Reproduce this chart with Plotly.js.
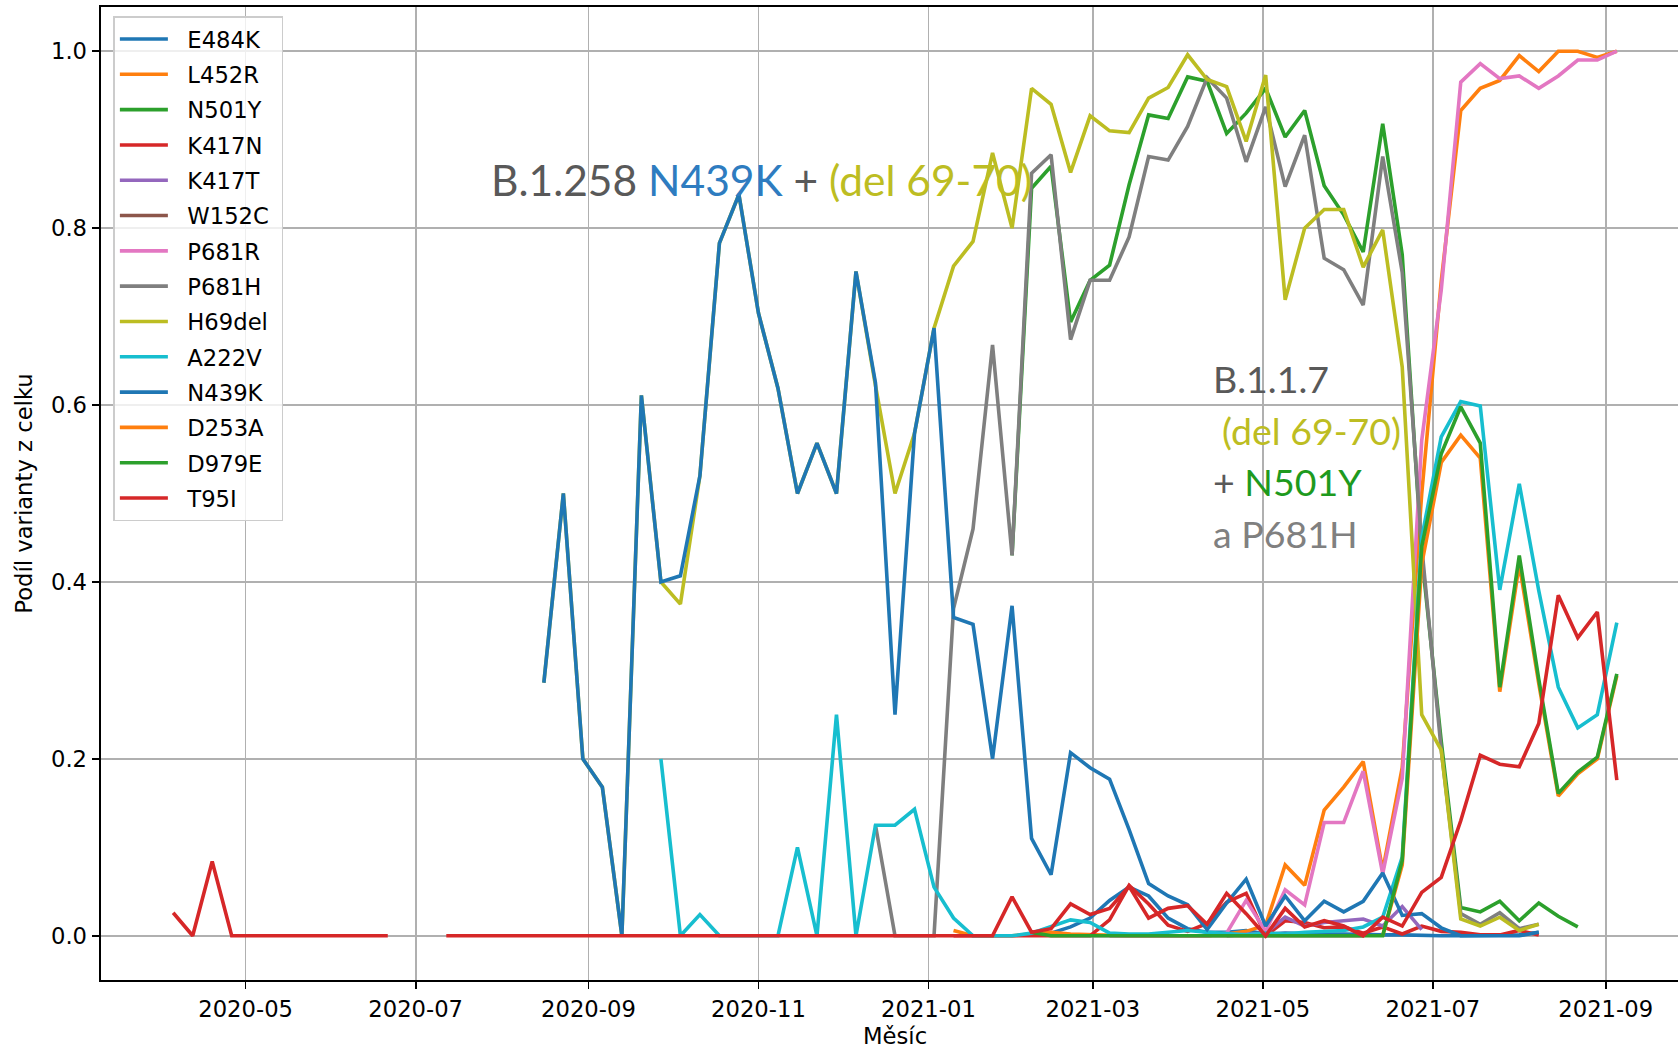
<!DOCTYPE html>
<html>
<head>
<meta charset="utf-8">
<script src="https://cdn.plot.ly/plotly-3.0.1.min.js"></script>
<style>
html,body{margin:0;padding:0;overflow:hidden;background:#fff;width:1678px;height:1050px}
#chart{width:1700px;height:1050px}
</style>
</head>
<body>
<div id="chart"></div>
<script>
// weekly dates (Sundays)
const weeks = [
 '2020-04-05','2020-04-12','2020-04-19','2020-04-26','2020-05-03','2020-05-10','2020-05-17','2020-05-24','2020-05-31','2020-06-07',
 '2020-06-14','2020-06-21','2020-06-28','2020-07-05','2020-07-12','2020-07-19','2020-07-26','2020-08-02','2020-08-09','2020-08-16',
 '2020-08-23','2020-08-30','2020-09-06','2020-09-13','2020-09-20','2020-09-27','2020-10-04','2020-10-11','2020-10-18','2020-10-25',
 '2020-11-01','2020-11-08','2020-11-15','2020-11-22','2020-11-29','2020-12-06','2020-12-13','2020-12-20','2020-12-27','2021-01-03',
 '2021-01-10','2021-01-17','2021-01-24','2021-01-31','2021-02-07','2021-02-14','2021-02-21','2021-02-28','2021-03-07','2021-03-14',
 '2021-03-21','2021-03-28','2021-04-04','2021-04-11','2021-04-18','2021-04-25','2021-05-02','2021-05-09','2021-05-16','2021-05-23',
 '2021-05-30','2021-06-06','2021-06-13','2021-06-20','2021-06-27','2021-07-04','2021-07-11','2021-07-18','2021-07-25','2021-08-01',
 '2021-08-08','2021-08-15','2021-08-22','2021-08-29','2021-09-05'
];
const _ = null;

const E484K = [
 _,_,_,_,_,_,_,_,_,_,  _,_,_,_,_,_,_,_,_,_,  _,_,_,_,_,_,_,_,_,_,  _,_,_,_,_,_,_,_,_,_,
 _,_,_,_,_,0.003,0.01,0.02,0.04,0.055,  0.045,0.02,0.008,0.004,0.004,0.006,0.002,0.003,0.002,0.002,
 0.002,0.001,0.001,0.001,0,0,0,0,0,0.001,  0.004,_,_,_,_
];
const L452R = [
 _,_,_,_,_,_,_,_,_,_,  _,_,_,_,_,_,_,_,_,_,  _,_,_,_,_,_,_,_,_,_,  _,_,_,_,_,_,_,_,_,_,
 0.006,0,0,0,0.002,0.004,0.002,0.001,0,0,  0,0,0,0,0.002,0.005,0.012,0.08,0.057,0.142,
 0.168,0.197,0.074,0.19,0.5,0.74,0.933,0.958,0.967,0.995,  0.977,1.0,1.0,0.993,1.0
];
const N501Y = [
 _,_,_,_,_,_,_,_,_,_,  _,_,_,_,_,_,_,_,_,_,  _,_,_,_,_,_,_,_,_,_,  _,_,_,_,_,_,_,_,_,_,
 _,_,_,0.43,0.845,0.87,0.694,0.741,0.758,0.849,  0.928,0.924,0.971,0.966,0.907,0.93,0.958,0.903,0.933,0.848,
 0.815,0.773,0.918,0.77,0.43,0.22,0.032,0.027,0.039,0.017,  0.037,0.022,0.01,_,_
];
const K417N = [
 _,_,_,_,_,_,_,_,_,_,  _,_,_,_,_,_,_,_,_,_,  _,_,_,_,_,_,_,_,_,_,  _,_,_,_,_,_,_,_,_,_,
 0,0,0,0,0,0,0,0,0.018,0.057,  0.036,0.012,0.005,0.014,0.038,0.048,0,0.017,0.015,0.009,
 0.01,0.003,0.01,0.002,0.011,0.005,0.004,0.001,0.001,0.006,  0.001,_,_,_,_
];
const K417T = [
 _,_,_,_,_,_,_,_,_,_,  _,_,_,_,_,_,_,_,_,_,  _,_,_,_,_,_,_,_,_,_,  _,_,_,_,_,_,_,_,_,_,
 _,_,_,_,_,_,_,_,_,_,  _,_,_,_,0,0.002,0.003,0.021,0.011,0.015,
 0.017,0.019,0.011,0.033,0.007,_,_,_,_,_,  _,_,_,_,_
];
const W152C = [
 _,_,_,_,_,_,_,_,_,_,  _,_,_,_,_,_,_,_,_,_,  _,_,_,_,_,_,_,_,_,_,  _,_,_,_,_,_,_,_,_,_,
 _,_,_,_,_,_,_,_,0,0,  0,0,0,0,0,0,0,0,0,0,
 0,0,_,_,_,_,_,_,_,_,  _,_,_,_,_
];
const P681R = [
 _,_,_,_,_,_,_,_,_,_,  _,_,_,_,_,_,_,_,_,_,  _,_,_,_,_,_,_,_,_,_,  _,_,_,_,_,_,_,_,_,_,
 _,_,_,_,_,_,0,0,0,0,  0,0,0,0,0.003,0.04,0.005,0.052,0.035,0.128,
 0.128,0.186,0.07,0.178,0.56,0.73,0.965,0.986,0.969,0.972,  0.958,0.972,0.99,0.99,1.0
];
const P681H = [
 _,_,_,_,_,_,_,_,_,_,  _,_,_,_,_,_,_,_,_,_,  _,_,_,_,_,_,_,_,_,_,  _,_,_,_,_,_,0.125,0,0,0,
 0.37,0.46,0.668,0.43,0.862,0.883,0.674,0.741,0.741,0.79,  0.881,0.877,0.915,0.97,0.947,0.875,0.937,0.847,0.905,0.766,
 0.753,0.713,0.881,0.75,0.44,0.21,0.025,0.013,0.026,0.008,  0.013,_,_,_,_
];
const H69del = [
 _,_,_,_,_,_,_,_,_,_,  _,_,_,_,_,_,_,_,_,0.286,  0.5,0.2,0.168,0,0.611,0.40,0.375,0.52,0.783,0.838,
 0.704,0.619,0.50,0.557,0.50,0.751,0.622,0.50,0.568,0.687,
 0.757,0.785,0.885,0.80,0.958,0.94,0.863,0.927,0.910,0.908,  0.947,0.959,0.996,0.968,0.960,0.898,0.973,0.719,0.800,0.821,
 0.821,0.756,0.798,0.643,0.25,0.21,0.019,0.011,0.021,0.006,  0.013,_,_,_,_
];
const A222V = [
 _,_,_,_,_,_,_,_,_,_,  _,_,_,_,_,_,_,_,_,_,  _,_,_,_,_,0.2,0,0.024,0,0,
 0,0,0.1,0,0.25,0,0.125,0.125,0.143,0.055,
 0.02,0,0,0,0.003,0.01,0.018,0.015,0.003,0.002,  0.002,0.004,0.006,0.004,0.002,0.001,0.003,0.002,0.004,0.005,
 0.006,0.01,0.021,0.089,0.45,0.564,0.604,0.599,0.391,0.511,  0.39,0.281,0.235,0.25,0.354
];
const N439K = [
 _,_,_,_,_,_,_,_,_,_,  _,_,_,_,_,_,_,_,_,0.286,  0.5,0.2,0.168,0,0.611,0.40,0.407,0.52,0.783,0.838,
 0.704,0.619,0.50,0.557,0.50,0.751,0.625,0.25,0.568,0.687,
 0.36,0.352,0.2,0.373,0.11,0.069,0.207,0.19,0.177,0.12,  0.059,0.045,0.035,0.007,0.037,0.064,0.011,0.045,0.017,0.039,
 0.027,0.039,0.071,0.023,0.025,0.009,0,0,0,0,  0.004,_,_,_,_
];
const D253A = [
 _,_,_,_,_,_,_,_,_,_,  _,_,_,_,_,_,_,_,_,_,  _,_,_,_,_,_,_,_,_,_,  _,_,_,_,_,_,_,_,_,_,
 _,_,_,_,_,_,_,_,_,_,  _,_,_,_,_,_,_,_,_,_,
 _,_,0,0.08,0.42,0.535,0.566,0.54,0.276,0.42,  0.285,0.158,0.183,0.2,0.294
];
const D979E = [
 _,_,_,_,_,_,_,_,_,_,  _,_,_,_,_,_,_,_,_,_,  _,_,_,_,_,_,_,_,_,_,  _,_,_,_,_,_,_,_,_,_,
 _,_,_,_,0.004,0,0,0,0,0,  0,0,0,0,0,0,0,0,0,0,
 0,0,0,0.085,0.44,0.545,0.598,0.557,0.281,0.43,  0.29,0.161,0.185,0.202,0.296
];
const T95I = [
 0.026,0,0.084,0,0,0,0,0,0,0,  0,0,_,_,0,0,0,0,0,0,  0,0,0,0,0,0,0,0,0,0,  0,0,0,0,0,0,0,0,0,0,
 0,0,0,0.044,0.004,0.008,0.036,0.024,0.031,0.056,  0.02,0.031,0.034,0.013,0.048,0.025,0,0.031,0.01,0.017,
 0.011,0,0.021,0.011,0.049,0.066,0.13,0.204,0.194,0.191,  0.24,0.385,0.337,0.366,0.176
];

const seriesNames = ['E484K','L452R','N501Y','K417N','K417T','W152C','P681R','P681H','H69del','A222V','N439K','D253A','D979E','T95I'];
const seriesValues = [E484K,L452R,N501Y,K417N,K417T,W152C,P681R,P681H,H69del,A222V,N439K,D253A,D979E,T95I];
const seriesColors = ['#1f77b4','#ff7f0e','#2ca02c','#d62728','#9467bd','#8c564b','#e377c2','#7f7f7f','#bcbd22','#17becf','#1f77b4','#ff7f0e','#2ca02c','#d62728'];

const xTicks = ['2020-05-01','2020-07-01','2020-09-01','2020-11-01','2021-01-01','2021-03-01','2021-05-01','2021-07-01','2021-09-01'];
const yTicks = [0,0.2,0.4,0.6,0.8,1.0];

const FONT = 'DejaVu Sans';
const FS = 22.7;
const NB = '\u00a0';
const traces = seriesNames.map((n,k)=>({
  type:'scatter', mode:'lines', name:NB+NB+n+NB, legendgroup:n,
  x: weeks, y: seriesValues[k],
  line:{color:seriesColors[k], width:3.6},
  connectgaps:false, hoverinfo:'skip'
}));

const axisCommon = {
  showline:true, mirror:true, linecolor:'#000', linewidth:1.7,
  ticks:'outside', ticklen:7.7, tickwidth:1.7, tickcolor:'#000',
  showgrid:true, gridcolor:'#b0b0b0', gridwidth:1.7, zeroline:false,
  tickfont:{family:FONT, size:FS, color:'#000'}, automargin:false
};

const ANN = 'Lato';
function ann(x, y, size, text){
  return {xref:'paper', yref:'paper', x:x, y:y, xanchor:'left', yanchor:'middle', showarrow:false,
          align:'left', font:{family:ANN, size:size, color:'#595959'}, text:text};
}

const layout = {
  width:1700, height:1050,
  margin:{l:101, r:11, t:7, b:70},
  paper_bgcolor:'#fff', plot_bgcolor:'#fff',
  font:{family:FONT, size:FS, color:'#000'},
  showlegend:true,
  legend:{x:0.0078, y:0.9905, xanchor:'left', yanchor:'top',
    bgcolor:'rgba(255,255,255,0.8)', bordercolor:'#cccccc', borderwidth:1.5,
    font:{family:FONT, size:FS, color:'#000'}, tracegroupgap:2.8, itemwidth:48},
  xaxis:Object.assign({}, axisCommon, {
    type:'date', range:['2020-03-10 02:24','2021-09-30 21:36'],
    tickmode:'array', tickvals:xTicks, tickformat:'%Y-%m'
  }),
  yaxis:Object.assign({}, axisCommon, {
    range:[-0.05,1.05], tickmode:'array', tickvals:yTicks, tickformat:'.1f',
    title:{text:'Podíl varianty z celku', font:{family:FONT, size:FS, color:'#000'}, standoff:12}
  }),
  annotations:[
    {xref:'paper', yref:'paper', x:0.5, y:-0.0576, xanchor:'center', yanchor:'middle', showarrow:false,
     font:{family:FONT, size:FS, color:'#000'}, text:'Měsíc'},
    ann(0.2442, 0.8222, 42.5,
      '<span style="color:#595959">B.1.258 </span><span style="color:#2e7cc0">N439K</span><span style="color:#595959"> + </span><span style="color:#bdbd22">(del 69-70)</span>'),
    ann(0.6993, 0.6178, 37.5, '<span style="color:#595959">B.1.1.7</span>'),
    ann(0.7047, 0.5649, 37.5, '<span style="color:#bdbd22">(del 69-70)</span>'),
    ann(0.6993, 0.5121, 37.5, '<span style="color:#595959">+ </span><span style="color:#1e9a1e">N501Y</span>'),
    ann(0.6993, 0.4594, 37.5, '<span style="color:#808080">a P681H</span>')
  ]
};

Plotly.newPlot('chart', traces, layout, {staticPlot:true, displayModeBar:false});
</script>
</body>
</html>
